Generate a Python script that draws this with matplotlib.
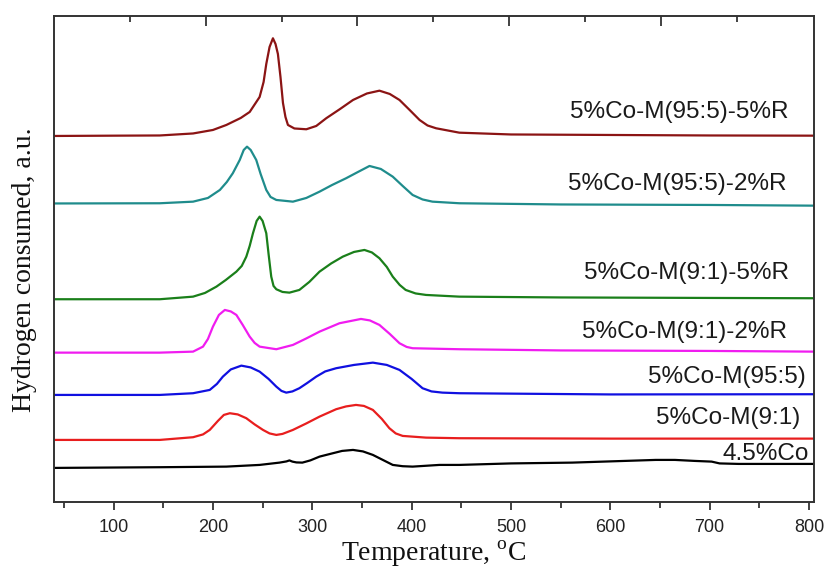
import numpy as np
import matplotlib
matplotlib.use("Agg")
import matplotlib.pyplot as plt

# Temperature (C) and signal (a.u., arbitrary offset units)
t_brown = [40, 100, 146.5, 180, 200, 213.5, 228, 237, 247, 251, 253.7, 257, 260.4, 263, 265.4, 268,
           270.5, 273, 275.5, 282, 294, 304, 314, 328, 341, 355, 367.6, 378, 387.8, 398, 408, 416,
           424.6, 448, 500, 600, 700, 805]
y_brown = [366, 366.3, 366.5, 368.5, 372, 377, 384, 390, 405, 420, 438, 455, 463.7, 458, 448, 425,
           399, 385, 377, 373.5, 372.7, 376, 383.7, 393, 402, 408.5, 411.3, 408, 402, 392, 382, 376.5,
           373.7, 369.3, 367.5, 367, 366.5, 366.3]

t_teal = [40, 146.5, 180, 195, 207, 214, 220, 227, 231, 234.3, 238, 243.6, 248, 253.7, 258, 263.8,
          280.5, 294, 307.3, 320, 334, 346, 357.6, 369, 381, 391, 401, 411, 421, 448, 550, 700, 805]
y_teal = [298.5, 298.7, 300.3, 304, 312, 320, 328.7, 342, 352, 355.3, 352, 342, 328, 312, 305, 302,
          300.3, 304, 310.3, 317, 323.7, 330, 336, 333, 325.3, 316, 307, 302.5, 300.3, 298.7, 297.5, 297, 296.3]

t_green = [40, 146.5, 180, 192, 203.5, 213, 223.6, 229, 233.6, 237, 240.3, 244, 247, 250, 253.7, 256,
           258.7, 261, 263.8, 270, 277, 287, 297, 307.3, 319, 330.7, 342, 352.5, 360, 367.6, 375, 381,
           388, 394, 404, 414.5, 448, 550, 700, 805]
y_green = [202.7, 202.7, 205.3, 209, 215.3, 222, 230.3, 236, 245.3, 256, 268.7, 281, 285.3, 281, 268.7, 248,
           225.3, 216, 212.7, 210, 209.3, 212, 220, 230.3, 238.5, 245.3, 250, 252, 249.5, 243.7, 235, 225.3,
           217, 212, 208.5, 207, 205.3, 204.5, 204, 203.7]

t_magenta = [40, 146.5, 180, 190, 195, 200, 206, 212, 218, 223.6, 230, 237, 242, 247, 263.8, 280.5,
             294, 307.3, 327.4, 349, 358, 367.6, 378, 387.8, 395, 401, 448, 550, 700, 805]
y_magenta = [149.3, 149.3, 150.3, 155.3, 163, 175.3, 187, 192, 190.5, 187, 177, 165.3, 159, 155.3, 152.7, 157,
             163.5, 170.3, 178.7, 183, 181.5, 177, 168, 158.7, 155, 153.7, 152.7, 151.5, 151, 150.3]

t_blue = [40, 146.5, 180, 196.8, 204, 210, 218, 228.6, 238, 247, 256, 263.8, 269, 273.8, 280, 287,
          295, 304, 313, 324, 342, 361, 375, 387.8, 400, 411, 420, 431, 448, 600, 805]
y_blue = [107, 107, 108.7, 112, 118, 125.3, 132.5, 136.3, 134.5, 130.3, 123, 115.3, 111, 109.3, 110.5, 113.7,
          119, 125.3, 130.5, 133.7, 137, 139.3, 137, 132, 123, 113.7, 110.5, 109.3, 108.7, 107.5, 107.7]

t_red = [40, 146.5, 180, 190, 196.8, 205, 211, 217, 225, 233.6, 242, 250.4, 257, 263.8, 270, 280.5,
         294, 307.3, 324, 334, 344, 352, 361, 370, 377.6, 384, 391, 414.5, 448, 600, 805]
y_red = [62, 62, 64.7, 67.5, 72, 81, 87, 88.7, 87.5, 83.7, 77.5, 72, 68.5, 67, 68, 72,
         78.5, 85.3, 92.7, 95.5, 97, 96, 92, 83, 73.7, 68.5, 66, 64.3, 63.7, 63.3, 63.3]

t_black = [40, 146.5, 213.5, 247, 267, 274, 277, 280, 284, 290, 298, 307.3, 320, 330, 341, 351,
           361, 371, 381, 391, 401, 428, 448, 500, 561.6, 645.7, 665, 685, 702, 710, 729, 805]
y_black = [34, 34.7, 35.3, 37, 39.3, 40.5, 41.5, 40.3, 39.5, 39.3, 41.5, 45.3, 48.5, 51, 52, 50.5,
           47, 42, 37, 35.7, 35.3, 37, 37, 38.5, 39.3, 42, 42, 41, 40.3, 38.5, 38, 38]

names = ["5%Co-M(95:5)-5%R", "5%Co-M(95:5)-2%R", "5%Co-M(9:1)-5%R", "5%Co-M(9:1)-2%R",
         "5%Co-M(95:5)", "5%Co-M(9:1)", "4.5%Co"]
series_t = [t_brown, t_teal, t_green, t_magenta, t_blue, t_red, t_black]
series_y = [y_brown, y_teal, y_green, y_magenta, y_blue, y_red, y_black]
colors = ["#8b1414", "#1f8c8c", "#1a7f1a", "#f01cf0", "#1010e0", "#e81e1e", "#000000"]

# where the curve names sit (right edge, vertical centre)
label_x = [779.7, 777.7, 779.7, 777.7, 796.5, 791.4, 799.8]
label_y = [390.3, 317.7, 228.7, 170.3, 125.3, 84, 48]

# ticks of the top axis (do not line up with the bottom one)
top_major = [192.8, 345.5, 498.3, 651.0]
top_minor = [116.4, 269.1, 421.9, 574.6, 727.4]

fig = plt.figure(figsize=(8.29, 5.71), dpi=100)
ax = fig.add_axes([0.0651, 0.121, 0.9168, 0.851])

for t, y, c in zip(series_t, series_y, colors):
    ax.plot(t, y, color=c, lw=1.6, solid_joinstyle="round")

for name, lx, ly in zip(names, label_x, label_y):
    ax.text(lx, ly, name, ha="right", va="center", fontsize=17.5,
            family="Liberation Sans", color="#1a1a1a")

ax.set_xlim(40, 805)
ax.set_ylim(0, 486)
ax.set_xticks(np.arange(100, 801, 100))
ax.set_xticks(np.arange(50, 801, 50), minor=True)
ax.set_yticks([])
ax.tick_params(axis="x", which="major", direction="out", length=6, width=1.2,
               labelsize=13, pad=6, colors="#222222")
ax.tick_params(axis="x", which="minor", direction="out", length=4.5, width=1.2, colors="#222222")
for lab in ax.get_xticklabels():
    lab.set_family("Liberation Sans")

ax2 = ax.twiny()
ax2.set_xlim(ax.get_xlim())
ax2.set_xticks(top_major)
ax2.set_xticks(top_minor, minor=True)
ax2.tick_params(axis="x", which="major", direction="in", length=7, width=1.2,
                labeltop=False, colors="#222222")
ax2.tick_params(axis="x", which="minor", direction="in", length=4.5, width=1.2, colors="#222222")

for a in (ax, ax2):
    for s in a.spines.values():
        s.set_linewidth(1.2)
        s.set_color("#333333")

ax.set_xlabel(r"Temperature, $^{\mathregular{o}}$C", family="Liberation Serif", fontsize=20,
              color="#111111", labelpad=2)
ax.set_ylabel("Hydrogen consumed, a.u.", family="Liberation Serif", fontsize=20, color="#111111")
ax.yaxis.set_label_coords(-0.022, 0.477)

fig.savefig("out.png", dpi=100)
